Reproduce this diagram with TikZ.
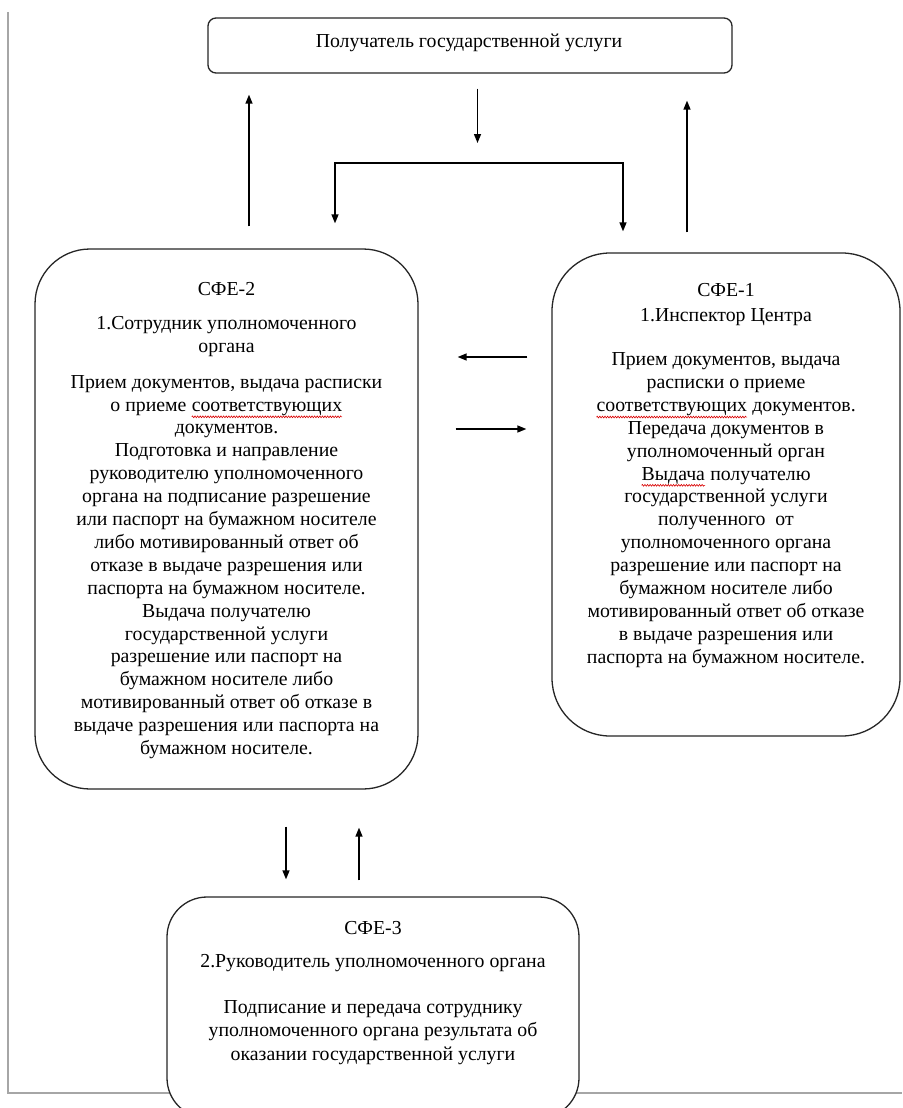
\documentclass[tikz,border=0pt]{standalone}
\usepackage{fontspec}
\setmainfont{Liberation Serif}
\usetikzlibrary{arrows.meta,calc,decorations.pathmorphing}
\newcommand\spellmark[1]{\tikz[baseline=(w.base)]{\node[inner sep=0pt, outer sep=0pt, minimum size=0pt] (w) {#1};
  \draw[red!85!black, line width=0.6pt, decorate, decoration={zigzag, amplitude=0.9pt, segment length=2.6pt}] ([yshift=-1.5pt]w.south west) -- ([yshift=-1.5pt]w.south east);}}
\begin{document}
\begin{tikzpicture}[x=1pt,y=-1pt,
  box/.style={draw=black!85, line width=1.3pt, fill=white, inner sep=0pt},
  txt/.style={align=center, inner sep=0pt, font=\fontsize{19.8}{22.9}\selectfont},
  arr/.style={draw=black, line width=1.4pt, -{Triangle[length=9pt,width=7pt]}},
  frameline/.style={draw=black!35, line width=2pt}]
\useasboundingbox (0,0) rectangle (902,1108);
\draw[frameline] (8,12) -- (8,1093) -- (902,1093);

% boxes
\node[box, rounded corners=8pt, minimum width=524pt, minimum height=55pt] (top) at (470,45.5) {};
\node[box, rounded corners=55pt, minimum width=383pt, minimum height=540pt] (sfe2) at (226.5,519) {};
\node[box, rounded corners=58pt, minimum width=348pt, minimum height=483pt] (sfe1) at (726,494.5) {};
\node[box, rounded corners=40pt, minimum width=412pt, minimum height=221pt] (sfe3) at (373,1007.5) {};

% texts
\node[txt] (ttop) at (469,43) {Получатель государственной услуги};

\node[txt] (t2a) at (226.5,289) {СФЕ-2};
\node[txt] (t2b) at (226.5,336.5) {1.Сотрудник уполномоченного\\органа};
\node[txt] (t2c) at (226.5,567) {Прием документов, выдача расписки\\
о приеме \spellmark{соответствующих}\\
документов.\\
Подготовка и направление\\
руководителю уполномоченного\\
органа на подписание разрешение\\
или паспорт на бумажном носителе\\
либо мотивированный ответ об\\
отказе в выдаче разрешения или\\
паспорта на бумажном носителе.\\
Выдача получателю\\
государственной услуги\\
разрешение или паспорт на\\
бумажном носителе либо\\
мотивированный ответ об отказе в\\
выдаче разрешения или паспорта на\\
бумажном носителе.};

\node[txt] (t1a) at (726,290) {СФЕ-1};
\node[txt] (t1b) at (726,317) {1.Инспектор Центра};
\node[txt] (t1c) at (726,510) {Прием документов, выдача\\
расписки о приеме\\
\spellmark{соответствующих} документов.\\
Передача документов в\\
уполномоченный орган\\
\spellmark{Выдача} получателю\\
государственной услуги\\
полученного~~от\\
уполномоченного органа\\
разрешение или паспорт на\\
бумажном носителе либо\\
мотивированный ответ об отказе\\
в выдаче разрешения или\\
паспорта на бумажном носителе.};

\node[txt] (t3a) at (373,928) {СФЕ-3};
\node[txt] (t3b) at (373,963) {2.Руководитель уполномоченного органа};
\node[txt, font=\fontsize{19.8}{23.5}\selectfont] (t3c) at (373,1032.5) {Подписание и передача сотруднику\\
уполномоченного органа результата об\\
оказании государственной услуги};

% connectors
\coordinate (br) at (477.5,163);
\draw[arr] ($(sfe2.north)+(22.5,-22)$) -- ($(top.south)+(-221,21)$);
\draw[arr] ($(top.south)+(7.5,15)$) -- ($(br)+(0,-20)$);
\draw[arr] (br) -| ($(sfe2.north)+(108.5,-25)$);
\draw[arr] (br) -| ($(sfe1.north)+(-103,-21)$);
\draw[arr] ($(sfe1.north)+(-39,-20)$) -- ($(top.south)+(217,27)$);
\draw[arr] ($(sfe1.west)+(-24,-137.5)$) -- ($(sfe2.east)+(39,-162)$);
\draw[arr] ($(sfe2.east)+(37,-90)$) -- ($(sfe1.west)+(-25,-65.5)$);
\draw[arr] ($(sfe2.south)+(59.5,37)$) -- ($(sfe3.north)+(-87,-17)$);
\draw[arr] ($(sfe3.north)+(-14,-16)$) -- ($(sfe2.south)+(132.5,38)$);
\end{tikzpicture}
\end{document}
